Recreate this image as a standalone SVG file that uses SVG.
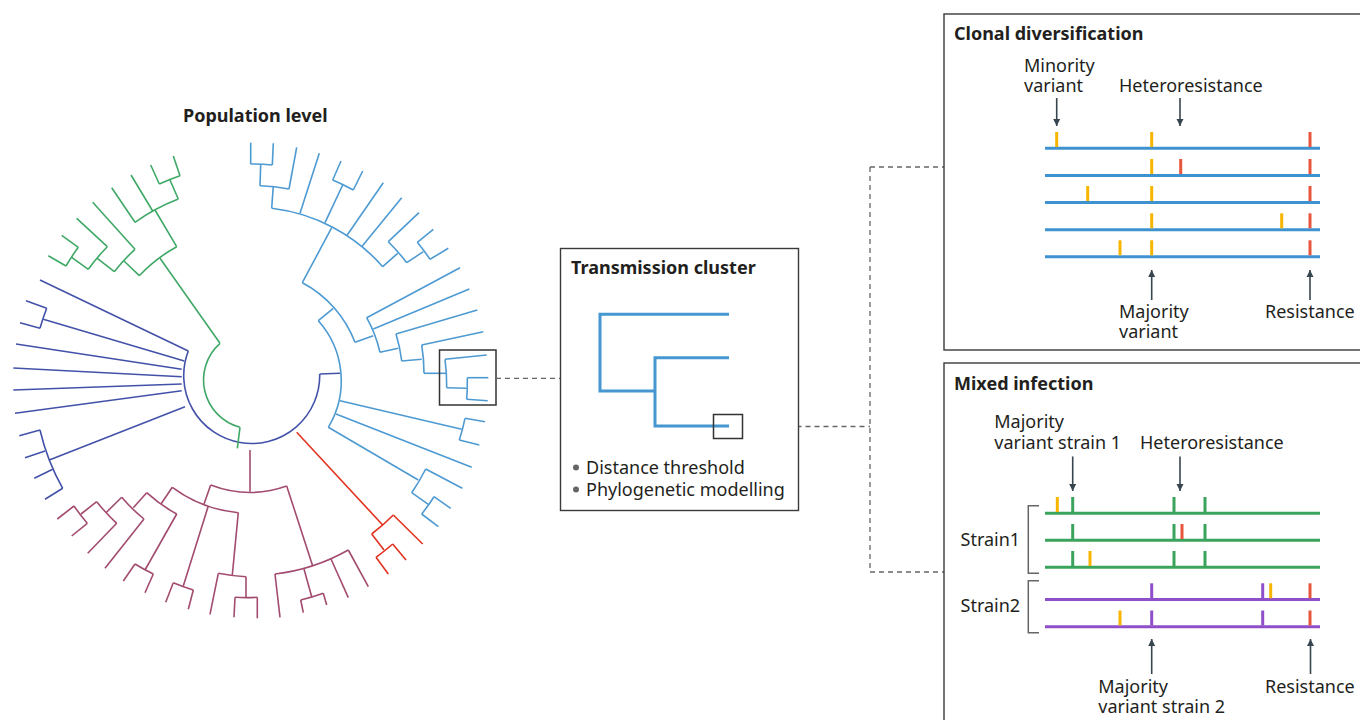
<svg xmlns="http://www.w3.org/2000/svg" width="1360" height="720" viewBox="0 0 1360 720">
<defs>
<style>
.t{font-family:"Noto Sans","Open Sans","Liberation Sans",sans-serif;font-size:18px;fill:#231f20}
.b{font-weight:bold;font-size:18px}
.tree path{fill:none;stroke-width:1.6;stroke-linejoin:miter}
.db path{stroke:#4352a8}
.gr path{stroke:#3fa866}
.mr path{stroke:#a24b6f}
.rd path{stroke:#e2321f}
.lb path{stroke:#4d9ad2}
.dash{fill:none;stroke:#666;stroke-width:1.3;stroke-dasharray:5 4}
.frame{fill:#fff;stroke:#3a3a3a;stroke-width:1.4}
.arr{stroke:#37454f;stroke-width:1.6;marker-end:url(#ah)}
.seqb{stroke:#3f92d0;stroke-width:3}
.seqg{stroke:#3aa35c;stroke-width:3}
.seqp{stroke:#8f4fc8;stroke-width:3}
.ty{stroke:#f7b500;stroke-width:3}
.tr{stroke:#e8553d;stroke-width:3}
.tg{stroke:#3aa35c;stroke-width:3}
.tp{stroke:#8f4fc8;stroke-width:3}
.brk{fill:none;stroke:#666;stroke-width:1.5}
</style>
<marker id="ah" viewBox="0 0 10 10" refX="10" refY="5" markerWidth="7" markerHeight="9" markerUnits="userSpaceOnUse" orient="auto">
<path d="M0,0 L10,5 L0,10 z" fill="#37454f"/>
</marker>
</defs>
<rect width="1360" height="720" fill="#fff"/>

<g id="population-tree" class="tree">
<text class="t b" x="183" y="122">Population level</text>
<g class="db">
<path d="M319.7 374 A68 68 0 1 1 188.3 351"/>
<path d="M319.7 374 L340 373.3"/>
<path d="M188.3 351 L40 280"/>
<path d="M184.3 361 L43.3 319.3"/>
<path d="M40 328.3 A217 217 0 0 1 46.7 308.3"/>
<path d="M46.7 308.3 L26 300.7"/>
<path d="M40 328.3 L20 322.7"/>
<path d="M181.7 369.3 L16 344"/>
<path d="M181.7 376.7 L13.3 368"/>
<path d="M181.7 384 L13.3 390"/>
<path d="M181.7 390.7 L15 413.3"/>
<path d="M185 406.7 L49.3 460"/>
<path d="M62.7 488.3 A217 217 0 0 1 40 430"/>
<path d="M40 430 L19.3 435.7"/>
<path d="M45 451 L25 457.7"/>
<path d="M52.7 469.3 L34.3 478.3"/>
<path d="M62.7 488.3 L45 499.3"/>
</g>
<g class="gr">
<path d="M240 427.3 L237.3 448.3"/>
<path d="M240 427.3 A49 49 0 0 1 220 343.3"/>
<path d="M220 343.3 L160 258.3"/>
<path d="M139.3 275.7 A154 154 0 0 1 176.7 246.7"/>
<path d="M176.7 246.7 L155 210"/>
<path d="M135 222.3 A197 197 0 0 1 178.3 199"/>
<path d="M178.3 199 L170 180"/>
<path d="M159.3 184 A216 216 0 0 1 180 175.7"/>
<path d="M180 175.7 L173.3 156"/>
<path d="M159.3 184 L150.7 165"/>
<path d="M152.7 211 L131 175"/>
<path d="M135 222.3 L111.7 187.7"/>
<path d="M139.3 275.7 L124 261"/>
<path d="M114.3 271.7 A175 175 0 0 1 135 249.3"/>
<path d="M135 249.3 L92.7 202.3"/>
<path d="M114.3 271.7 L97.3 258.3"/>
<path d="M88.3 269.3 A197 197 0 0 1 107.3 246.7"/>
<path d="M107.3 246.7 L76.7 218.3"/>
<path d="M88.3 269.3 L71.7 257.3"/>
<path d="M66 266 A218 218 0 0 1 78.3 247.3"/>
<path d="M78.3 247.3 L61.7 235.3"/>
<path d="M66 266 L48.3 255.7"/>
</g>
<g class="mr">
<path d="M250 450 L250 491.7"/>
<path d="M286.7 486 A110 110 0 0 1 210.7 485"/>
<path d="M210.7 485 L204 504"/>
<path d="M238.3 512.7 A131 131 0 0 1 172.3 487.3"/>
<path d="M172.3 487.3 L161 504"/>
<path d="M176.7 514 A151 151 0 0 1 146.7 492.7"/>
<path d="M146.7 492.7 L133.3 507.7"/>
<path d="M144 519 A173 173 0 0 1 121.7 497.3"/>
<path d="M121.7 497.3 L106 512.7"/>
<path d="M144 519 L105 568.3"/>
<path d="M116.7 523.3 A195 195 0 0 1 96.7 501.7"/>
<path d="M96.7 501.7 L81 514"/>
<path d="M116.7 523.3 L87.7 553.3"/>
<path d="M87.3 523.3 A216 216 0 0 1 74 506"/>
<path d="M74 506 L57.3 519"/>
<path d="M87.3 523.3 L71.7 536"/>
<path d="M176.7 514 L145 570"/>
<path d="M153.3 574 A215 215 0 0 1 135 564"/>
<path d="M135 564 L123.3 581"/>
<path d="M153.3 574 L145 592.7"/>
<path d="M208.3 506 L183.3 586"/>
<path d="M193.3 590 A215 215 0 0 1 173.3 582.7"/>
<path d="M173.3 582.7 L165.7 602.3"/>
<path d="M193.3 590 L188.3 609.3"/>
<path d="M238.3 512.7 L232.3 575"/>
<path d="M246 576.7 A194 194 0 0 1 218.3 573.3"/>
<path d="M218.3 573.3 L210 614.3"/>
<path d="M246 576.7 L246 597.3"/>
<path d="M257.3 597.3 A215 215 0 0 1 235 597.3"/>
<path d="M235 597.3 L234 617.3"/>
<path d="M257.3 597.3 L257.3 618.3"/>
<path d="M286.7 486 L312.7 566"/>
<path d="M348.3 550 A194 194 0 0 1 275 574"/>
<path d="M275 574 L280 617.3"/>
<path d="M304 569 L311.7 596.7"/>
<path d="M323.3 593.3 A215 215 0 0 1 300.7 600"/>
<path d="M300.7 600 L303.3 612.7"/>
<path d="M323.3 593.3 L326.7 605"/>
<path d="M331 559 L348.3 597.7"/>
<path d="M348.3 550 L368.3 586.7"/>
</g>
<g class="rd">
<path d="M296.7 432.3 L382.7 525"/>
<path d="M393.3 515 A194 194 0 0 1 371.7 534"/>
<path d="M393.3 515 L422.7 544"/>
<path d="M371.7 534 L384 550"/>
<path d="M392.7 544 A214 214 0 0 1 376 557.3"/>
<path d="M392.7 544 L406 560"/>
<path d="M376 557.3 L388.3 574"/>
</g>
<g class="lb">
<path d="M318.3 320.7 A90 90 0 0 1 328.3 427.3"/>
<path d="M318.3 320.7 L333.3 308.3"/>
<path d="M302.3 282.7 A112 112 0 0 1 355 342.3"/>
<path d="M302.3 282.7 L331.7 227.7"/>
<path d="M271.7 208.3 A175 175 0 0 1 382.7 266.7"/>
<path d="M271.7 208.3 L273.3 186"/>
<path d="M260 185.7 A197 197 0 0 1 289 189"/>
<path d="M289 189 L296.7 147.3"/>
<path d="M260 185.7 L260.7 164"/>
<path d="M250.7 164 A218 218 0 0 1 272.3 165"/>
<path d="M250.7 164 L250.7 142.7"/>
<path d="M272.3 165 L273.3 143.3"/>
<path d="M300 213.3 L319.3 153.3"/>
<path d="M325 222.7 L342.7 185"/>
<path d="M332.7 180 A217 217 0 0 1 353.3 190"/>
<path d="M332.7 180 L341 161"/>
<path d="M353.3 190 L362.7 171"/>
<path d="M346.7 235.7 L383.3 182.7"/>
<path d="M361.7 246.7 L401.7 197.7"/>
<path d="M382.7 266.7 L397.7 253.3"/>
<path d="M388.3 241.7 A196 196 0 0 1 406.7 262.7"/>
<path d="M388.3 241.7 L419 212.7"/>
<path d="M406.7 262.7 L423.3 251.7"/>
<path d="M417.3 242.3 A216 216 0 0 1 430 259.3"/>
<path d="M417.3 242.3 L433.3 229.3"/>
<path d="M430 259.3 L448.3 248.3"/>
<path d="M355 342.3 L373.3 335.7"/>
<path d="M366.7 317.7 A132 132 0 0 1 380 352.3"/>
<path d="M366.7 317.7 L460 267.7"/>
<path d="M373.3 329 L469.3 289"/>
<path d="M380 352.3 L398.3 348.3"/>
<path d="M396 334 A152 152 0 0 1 401.7 361"/>
<path d="M396 334 L477.3 310"/>
<path d="M401.7 361 L421.7 359.3"/>
<path d="M421.7 345 A173 173 0 0 1 424 373.3"/>
<path d="M421.7 345 L483.3 331.7"/>
<path d="M424 373.3 L446 373.3"/>
<path d="M445 359.3 A195 195 0 0 1 446.7 387.7"/>
<path d="M445 359.3 L486.7 355"/>
<path d="M446.7 387.7 L466.7 388.3"/>
<path d="M467.3 377.7 A216 216 0 0 1 466.7 399.3"/>
<path d="M467.3 377.7 L488.3 377.7"/>
<path d="M466.7 399.3 L487.7 400.7"/>
<path d="M340 400.7 L461.7 429.3"/>
<path d="M465 418.3 A216 216 0 0 1 459.3 440"/>
<path d="M465 418.3 L485 421.7"/>
<path d="M459.3 440 L479.3 445"/>
<path d="M336 414 L471.7 467.3"/>
<path d="M328.3 427.3 L418.3 480"/>
<path d="M425.7 469 A194 194 0 0 1 411.7 492.7"/>
<path d="M425.7 469 L462.3 488.3"/>
<path d="M411.7 492.7 L428.3 504.3"/>
<path d="M434 496.7 A216 216 0 0 1 421.7 514"/>
<path d="M434 496.7 L450.7 508.3"/>
<path d="M421.7 514 L438.3 526.7"/>
</g>
<rect x="439.5" y="350" width="56.5" height="55" fill="none" stroke="#333" stroke-width="1.5"/>
</g>

<g id="connectors">
<path class="dash" d="M496 378.3 L560 378.3"/>
<path class="dash" d="M742.5 426.5 L870 426.5"/>
<path class="dash" d="M870 167 L870 572"/>
<path class="dash" d="M870 167 L944 167"/>
<path class="dash" d="M870 572 L944 572"/>
</g>

<g id="transmission-cluster">
<rect class="frame" x="560.5" y="248.5" width="238" height="262"/>
<text class="t b" x="571" y="273.5">Transmission cluster</text>
<path d="M729 314.3 H600 V391 H655 M729 357.7 H655 V426 H729" fill="none" stroke="#4596d1" stroke-width="3"/>
<rect x="713.5" y="414.5" width="29" height="24" fill="none" stroke="#333" stroke-width="1.5"/>
<circle cx="576" cy="467.5" r="3" fill="#666"/>
<text class="t" x="586" y="474">Distance threshold</text>
<circle cx="576" cy="489.5" r="3" fill="#666"/>
<text class="t" x="586" y="496">Phylogenetic modelling</text>
</g>

<g id="clonal-diversification">
<rect class="frame" x="944" y="14" width="430" height="336"/>
<text class="t b" x="954" y="40">Clonal diversification</text>
<text class="t" x="1024" y="71.5">Minority<tspan x="1024" dy="20">variant</tspan></text>
<text class="t" x="1119" y="91.5">Heteroresistance</text>
<line class="arr" x1="1056.7" y1="98" x2="1056.7" y2="126"/>
<line class="arr" x1="1180" y1="98" x2="1180" y2="126"/>
<g class="seqb">
<line x1="1045" y1="148.3" x2="1320" y2="148.3"/>
<line x1="1045" y1="175.5" x2="1320" y2="175.5"/>
<line x1="1045" y1="202.5" x2="1320" y2="202.5"/>
<line x1="1045" y1="229.8" x2="1320" y2="229.8"/>
<line x1="1045" y1="256.8" x2="1320" y2="256.8"/>
</g>
<line class="ty" x1="1056.7" y1="132" x2="1056.7" y2="147"/>
<line class="ty" x1="1151.7" y1="132" x2="1151.7" y2="147"/>
<line class="tr" x1="1310" y1="132" x2="1310" y2="147"/>
<line class="ty" x1="1151.7" y1="159" x2="1151.7" y2="174"/>
<line class="tr" x1="1180.7" y1="159" x2="1180.7" y2="174"/>
<line class="tr" x1="1310" y1="159" x2="1310" y2="174"/>
<line class="ty" x1="1087.7" y1="186" x2="1087.7" y2="201"/>
<line class="ty" x1="1151.7" y1="186" x2="1151.7" y2="201"/>
<line class="tr" x1="1310" y1="186" x2="1310" y2="201"/>
<line class="ty" x1="1151.7" y1="213.3" x2="1151.7" y2="228.3"/>
<line class="ty" x1="1281.7" y1="213.3" x2="1281.7" y2="228.3"/>
<line class="tr" x1="1310" y1="213.3" x2="1310" y2="228.3"/>
<line class="ty" x1="1120" y1="240.3" x2="1120" y2="255.3"/>
<line class="ty" x1="1151.7" y1="240.3" x2="1151.7" y2="255.3"/>
<line class="tr" x1="1310" y1="240.3" x2="1310" y2="255.3"/>
<line class="arr" x1="1151.7" y1="300" x2="1151.7" y2="270"/>
<line class="arr" x1="1310" y1="300" x2="1310" y2="270"/>
<text class="t" x="1119" y="318.3">Majority<tspan x="1119" dy="20">variant</tspan></text>
<text class="t" x="1265" y="318.3">Resistance</text>
</g>

<g id="mixed-infection">
<rect class="frame" x="944" y="363" width="430" height="370"/>
<text class="t b" x="954" y="390">Mixed infection</text>
<text class="t" x="994.3" y="428.3">Majority<tspan x="994.3" dy="21">variant strain 1</tspan></text>
<text class="t" x="1140" y="449.3">Heteroresistance</text>
<line class="arr" x1="1072.7" y1="456.5" x2="1072.7" y2="491"/>
<line class="arr" x1="1180" y1="456.5" x2="1180" y2="491"/>
<g class="seqg">
<line x1="1045" y1="513.3" x2="1320" y2="513.3"/>
<line x1="1045" y1="540.3" x2="1320" y2="540.3"/>
<line x1="1045" y1="567.3" x2="1320" y2="567.3"/>
</g>
<g class="seqp">
<line x1="1045" y1="599.5" x2="1320" y2="599.5"/>
<line x1="1045" y1="626.7" x2="1320" y2="626.7"/>
</g>
<line class="ty" x1="1057.3" y1="497" x2="1057.3" y2="512"/>
<line class="tg" x1="1072.7" y1="497" x2="1072.7" y2="512"/>
<line class="tg" x1="1174" y1="497" x2="1174" y2="512"/>
<line class="tg" x1="1205" y1="497" x2="1205" y2="512"/>
<line class="tg" x1="1072.7" y1="524" x2="1072.7" y2="539"/>
<line class="tg" x1="1174" y1="524" x2="1174" y2="539"/>
<line class="tr" x1="1182" y1="524" x2="1182" y2="539"/>
<line class="tg" x1="1205" y1="524" x2="1205" y2="539"/>
<line class="tg" x1="1072.7" y1="551" x2="1072.7" y2="566"/>
<line class="ty" x1="1090" y1="551" x2="1090" y2="566"/>
<line class="tg" x1="1174" y1="551" x2="1174" y2="566"/>
<line class="tg" x1="1205" y1="551" x2="1205" y2="566"/>
<line class="tp" x1="1151.7" y1="583.3" x2="1151.7" y2="598.3"/>
<line class="tp" x1="1262.7" y1="583.3" x2="1262.7" y2="598.3"/>
<line class="ty" x1="1270.7" y1="583.3" x2="1270.7" y2="598.3"/>
<line class="tr" x1="1310" y1="583.3" x2="1310" y2="598.3"/>
<line class="ty" x1="1120" y1="610.5" x2="1120" y2="625.5"/>
<line class="tp" x1="1151.7" y1="610.5" x2="1151.7" y2="625.5"/>
<line class="tp" x1="1262.7" y1="610.5" x2="1262.7" y2="625.5"/>
<line class="tr" x1="1310" y1="610.5" x2="1310" y2="625.5"/>
<path class="brk" d="M1039 505.7 H1028.3 V573.3 H1039"/>
<path class="brk" d="M1039 580.7 H1028.3 V632.7 H1039"/>
<text class="t" x="960.5" y="546">Strain1</text>
<text class="t" x="960.5" y="612">Strain2</text>
<line class="arr" x1="1151.7" y1="674" x2="1151.7" y2="639"/>
<line class="arr" x1="1310.5" y1="674" x2="1310.5" y2="639"/>
<text class="t" x="1098.3" y="693.3">Majority<tspan x="1098.3" dy="20">variant strain 2</tspan></text>
<text class="t" x="1265" y="693.3">Resistance</text>
</g>
</svg>
